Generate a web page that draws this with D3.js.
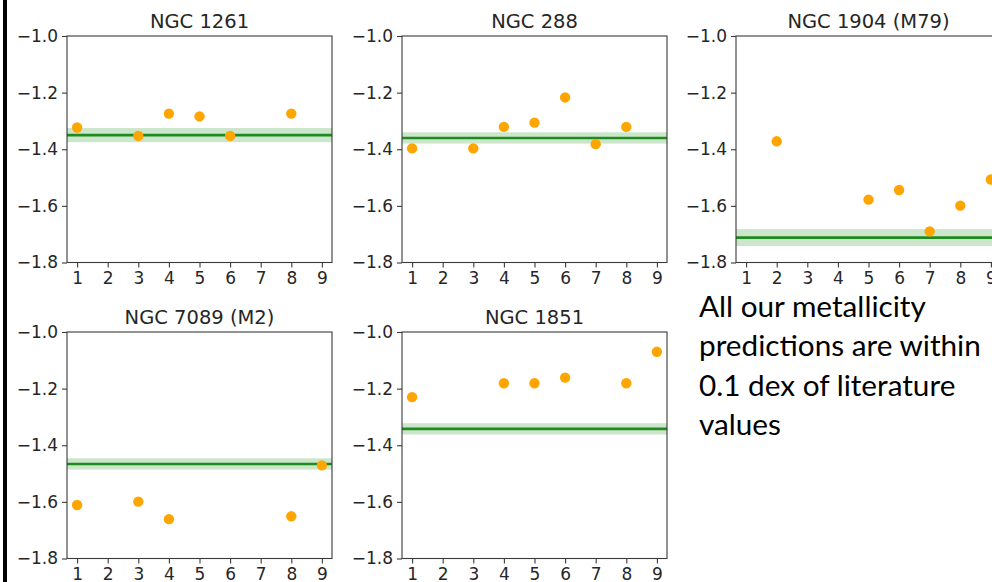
<!DOCTYPE html>
<html>
<head>
<meta charset="utf-8">
<script src="https://cdn.jsdelivr.net/npm/d3@7"></script>
<style>
  html, body { margin: 0; padding: 0; background: #ffffff; overflow: hidden; }
  svg { display: block; }
</style>
</head>
<body>
<svg id="chart" width="992" height="582"></svg>
<script>
// ---- data ----
const clusterNames = ["NGC 1261", "NGC 288", "NGC 1904 (M79)", "NGC 7089 (M2)", "NGC 1851"];
const literatureFeH = [-1.35, -1.36, -1.712, -1.466, -1.342];
const literatureErr = [0.025, 0.02, 0.03, 0.02, 0.02];
const ngc1261X = [1, 3, 4, 5, 6, 8];
const ngc1261Y = [-1.323, -1.353, -1.274, -1.284, -1.353, -1.274];
const ngc288X = [1, 3, 4, 5, 6, 7, 8];
const ngc288Y = [-1.397, -1.397, -1.321, -1.306, -1.217, -1.382, -1.321];
const ngc1904X = [2, 5, 6, 7, 8, 9];
const ngc1904Y = [-1.372, -1.578, -1.544, -1.690, -1.599, -1.507];
const ngc7089X = [1, 3, 4, 8, 9];
const ngc7089Y = [-1.611, -1.599, -1.661, -1.651, -1.471];
const ngc1851X = [1, 4, 5, 6, 8, 9];
const ngc1851Y = [-1.230, -1.181, -1.181, -1.161, -1.181, -1.070];
const xTicks = [1, 2, 3, 4, 5, 6, 7, 8, 9];
const yTicks = [-1.0, -1.2, -1.4, -1.6, -1.8];
const noteLines = ["All our metallicity", "predictions are within", "0.1 dex of literature", "values"];

const seriesX = [ngc1261X, ngc288X, ngc1904X, ngc7089X, ngc1851X];
const seriesY = [ngc1261Y, ngc288Y, ngc1904Y, ngc7089Y, ngc1851Y];

// ---- layout ----
const colLeft = [67, 402, 736];
const rowTop = [36, 332];
const pw = 265, ph = 226.5;
const textColor = "#262626";
const font = "DejaVu Sans, sans-serif";

const svg = d3.select("#chart");

// left black bar
svg.append("rect").attr("x", 3).attr("y", 0).attr("width", 4).attr("height", 582).attr("fill", "#000");

clusterNames.forEach((name, i) => {
  const col = i % 3, row = Math.floor(i / 3);
  const g = svg.append("g").attr("transform", `translate(${colLeft[col]},${rowTop[row]})`);
  const x = d3.scaleLinear().domain([0.67, 9.33]).range([0, pw]);
  const y = d3.scaleLinear().domain([-1.8, -1.0]).range([ph, 0]);

  // band
  g.append("rect")
    .attr("x", 0).attr("width", pw)
    .attr("y", y(literatureFeH[i] + literatureErr[i]))
    .attr("height", y(literatureFeH[i] - literatureErr[i]) - y(literatureFeH[i] + literatureErr[i]))
    .attr("fill", "#008000").attr("fill-opacity", 0.2);
  // line
  g.append("line")
    .attr("x1", 0).attr("x2", pw)
    .attr("y1", y(literatureFeH[i])).attr("y2", y(literatureFeH[i]))
    .attr("stroke", "#1f8a1f").attr("stroke-width", 2.6);

  // points
  g.selectAll("circle.pt").data(seriesX[i].map((v, k) => [v, seriesY[i][k]]))
    .join("circle").attr("class", "pt")
    .attr("cx", d => x(d[0])).attr("cy", d => y(d[1]))
    .attr("r", 5.2).attr("fill", "#ffa500");

  // frame
  g.append("rect").attr("x", 0).attr("y", 0).attr("width", pw).attr("height", ph)
    .attr("fill", "none").attr("stroke", "#3a3a3a").attr("stroke-width", 1.1);

  // axes
  const xa = g.append("g").attr("transform", `translate(0,${ph})`)
    .call(d3.axisBottom(x).tickValues(xTicks).tickSize(5).tickPadding(4).tickFormat(d3.format("d")));
  const ya = g.append("g")
    .call(d3.axisLeft(y).tickValues(yTicks).tickSize(5).tickPadding(4).tickFormat(d3.format(".1f")));
  [xa, ya].forEach(a => {
    a.select(".domain").remove();
    a.selectAll("line").attr("stroke", "#3a3a3a").attr("stroke-width", 1.1);
    a.selectAll("text").attr("fill", textColor).style("font-family", font).style("font-size", "17px");
  });

  // title
  g.append("text").attr("x", pw / 2).attr("y", -8)
    .attr("text-anchor", "middle").attr("fill", textColor)
    .style("font-family", font).style("font-size", "19.5px").text(name);
});

// annotation text
const note = svg.append("g");
const noteTexts = note.selectAll("text").data(noteLines).join("text")
  .attr("x", 699).attr("y", (d, k) => 317 + k * 39.3)
  .attr("fill", "#000").style("font-family", "Lato, 'Open Sans', sans-serif").style("font-size", "27px")
  .text(d => d);
// fit width of second line to ~282px
const w = noteTexts.nodes()[1].getComputedTextLength();
const fs = 27 * 282 / w;
noteTexts.style("font-size", fs + "px");
</script>
</body>
</html>
